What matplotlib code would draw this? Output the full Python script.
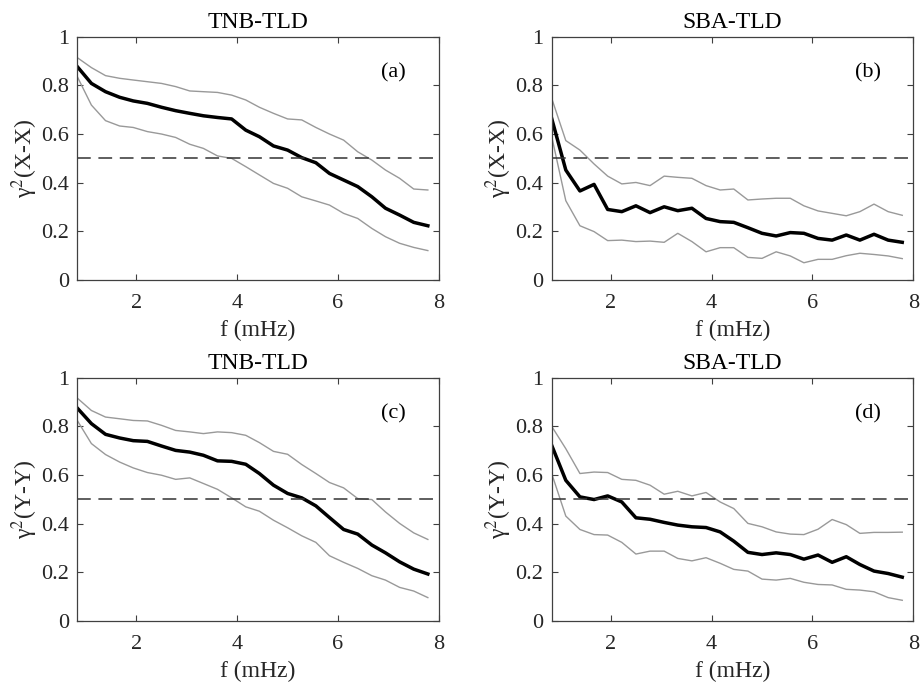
import matplotlib
matplotlib.use("Agg")
import matplotlib.pyplot as plt
from matplotlib.ticker import FormatStrFormatter

plt.rcParams['font.family'] = ['Liberation Serif', 'DejaVu Serif']
plt.rcParams['mathtext.fontset'] = 'stix'

# frequency bins (mHz)
freq = [0.83, 1.11, 1.39, 1.67, 1.94, 2.22, 2.50, 2.78, 3.06, 3.33, 3.61, 3.89, 4.17,
        4.44, 4.72, 5.00, 5.28, 5.56, 5.83, 6.11, 6.39, 6.67, 6.94, 7.22, 7.50, 7.78]

# (a) TNB-TLD, X-X
a_mid = [0.877, 0.808, 0.774, 0.751, 0.736, 0.726, 0.710, 0.696, 0.685, 0.675, 0.668, 0.662, 0.616,
         0.589, 0.551, 0.534, 0.503, 0.482, 0.438, 0.411, 0.384, 0.342, 0.295, 0.267, 0.237, 0.223]
a_hi = [0.914, 0.873, 0.840, 0.829, 0.822, 0.815, 0.808, 0.795, 0.777, 0.774, 0.771, 0.760, 0.740,
        0.710, 0.685, 0.662, 0.658, 0.627, 0.600, 0.575, 0.527, 0.493, 0.452, 0.418, 0.374, 0.370]
a_lo = [0.836, 0.719, 0.655, 0.633, 0.627, 0.610, 0.600, 0.586, 0.558, 0.541, 0.510, 0.500, 0.466,
        0.432, 0.397, 0.377, 0.342, 0.325, 0.308, 0.274, 0.253, 0.212, 0.178, 0.151, 0.134, 0.121]

# (b) SBA-TLD, X-X
b_mid = [0.664, 0.452, 0.366, 0.393, 0.290, 0.281, 0.305, 0.277, 0.301, 0.285, 0.295, 0.253, 0.240,
         0.237, 0.215, 0.192, 0.181, 0.195, 0.192, 0.171, 0.164, 0.185, 0.164, 0.188, 0.164, 0.155]
b_hi = [0.747, 0.573, 0.534, 0.477, 0.427, 0.395, 0.401, 0.388, 0.427, 0.422, 0.418, 0.388, 0.370,
        0.374, 0.329, 0.333, 0.336, 0.336, 0.305, 0.284, 0.274, 0.264, 0.281, 0.312, 0.281, 0.266]
b_lo = [0.590, 0.326, 0.223, 0.199, 0.162, 0.164, 0.158, 0.160, 0.155, 0.192, 0.158, 0.116, 0.133,
        0.133, 0.093, 0.089, 0.116, 0.099, 0.071, 0.085, 0.085, 0.100, 0.110, 0.105, 0.099, 0.088]

# (c) TNB-TLD, Y-Y
c_mid = [0.875, 0.811, 0.767, 0.752, 0.741, 0.738, 0.719, 0.701, 0.694, 0.681, 0.658, 0.656, 0.644,
         0.606, 0.558, 0.524, 0.506, 0.473, 0.425, 0.376, 0.357, 0.312, 0.280, 0.243, 0.213, 0.193]
c_hi = [0.916, 0.865, 0.838, 0.831, 0.824, 0.822, 0.804, 0.783, 0.777, 0.770, 0.777, 0.774, 0.763,
        0.733, 0.697, 0.685, 0.643, 0.606, 0.569, 0.547, 0.503, 0.499, 0.448, 0.401, 0.362, 0.335]
c_lo = [0.824, 0.729, 0.684, 0.653, 0.629, 0.610, 0.599, 0.582, 0.588, 0.565, 0.541, 0.506, 0.469,
        0.451, 0.414, 0.383, 0.350, 0.323, 0.268, 0.241, 0.216, 0.186, 0.168, 0.138, 0.123, 0.096]

# (d) SBA-TLD, Y-Y
d_mid = [0.722, 0.578, 0.510, 0.499, 0.514, 0.489, 0.424, 0.418, 0.405, 0.394, 0.387, 0.384, 0.366,
         0.328, 0.282, 0.273, 0.280, 0.273, 0.254, 0.271, 0.241, 0.264, 0.232, 0.205, 0.195, 0.180]
d_hi = [0.800, 0.708, 0.606, 0.612, 0.610, 0.582, 0.578, 0.558, 0.521, 0.533, 0.514, 0.528, 0.489,
        0.462, 0.401, 0.387, 0.366, 0.357, 0.355, 0.377, 0.417, 0.396, 0.360, 0.364, 0.364, 0.365]
d_lo = [0.606, 0.431, 0.376, 0.355, 0.353, 0.323, 0.275, 0.287, 0.287, 0.257, 0.247, 0.260, 0.237,
        0.212, 0.205, 0.172, 0.168, 0.175, 0.159, 0.150, 0.148, 0.130, 0.127, 0.120, 0.096, 0.085]

titles = ['TNB-TLD', 'SBA-TLD', 'TNB-TLD', 'SBA-TLD']
ylabels = ['γ$^2$(X-X)', 'γ$^2$(X-X)', 'γ$^2$(Y-Y)', 'γ$^2$(Y-Y)']
tags = ['(a)', '(b)', '(c)', '(d)']
panels = [(a_mid, a_hi, a_lo), (b_mid, b_hi, b_lo), (c_mid, c_hi, c_lo), (d_mid, d_hi, d_lo)]

fig = plt.figure(figsize=(9.21, 6.86), dpi=100)
positions = [[0.0839, 0.5918, 0.3927, 0.3547], [0.599, 0.5918, 0.3927, 0.3547],
             [0.0839, 0.0948, 0.3927, 0.3547], [0.599, 0.0948, 0.3927, 0.3547]]

spine_col = (0.25, 0.25, 0.25)
txt_col = (0.15, 0.15, 0.15)
for i in range(4):
    ax = fig.add_axes(positions[i])
    mid, hi, lo = panels[i]
    ax.plot(freq, hi, color=(0.6, 0.6, 0.6), lw=1.0)
    ax.plot(freq, lo, color=(0.6, 0.6, 0.6), lw=1.0)
    ax.plot(freq, mid, color='black', lw=2.5)
    ax.axhline(0.5, color=(0.2, 0.2, 0.2), lw=1.1, dashes=(9, 5))
    ax.set_xlim(freq[0], 8)
    ax.set_ylim(0, 1)
    ax.set_xticks([2, 4, 6, 8])
    ax.set_yticks([0, 0.2, 0.4, 0.6, 0.8, 1])
    ax.yaxis.set_major_formatter(FormatStrFormatter('%g'))
    ax.tick_params(direction='in', top=True, right=True, length=4, width=0.8,
                   colors=spine_col, labelcolor=txt_col, labelsize=16, pad=6)
    ax.tick_params(axis='x', pad=10)
    for s in ax.spines.values():
        s.set_color(spine_col)
        s.set_linewidth(0.9)
    ax.set_title(titles[i], fontsize=17, pad=6)
    ax.set_xlabel('f (mHz)', fontsize=17, color=txt_col, labelpad=5)
    ax.set_ylabel(ylabels[i], fontsize=17, color=txt_col, labelpad=1)
    ax.text(7.1, 0.85, tags[i], fontsize=16, ha='center', va='center')

fig.savefig('out.png', dpi=100)
